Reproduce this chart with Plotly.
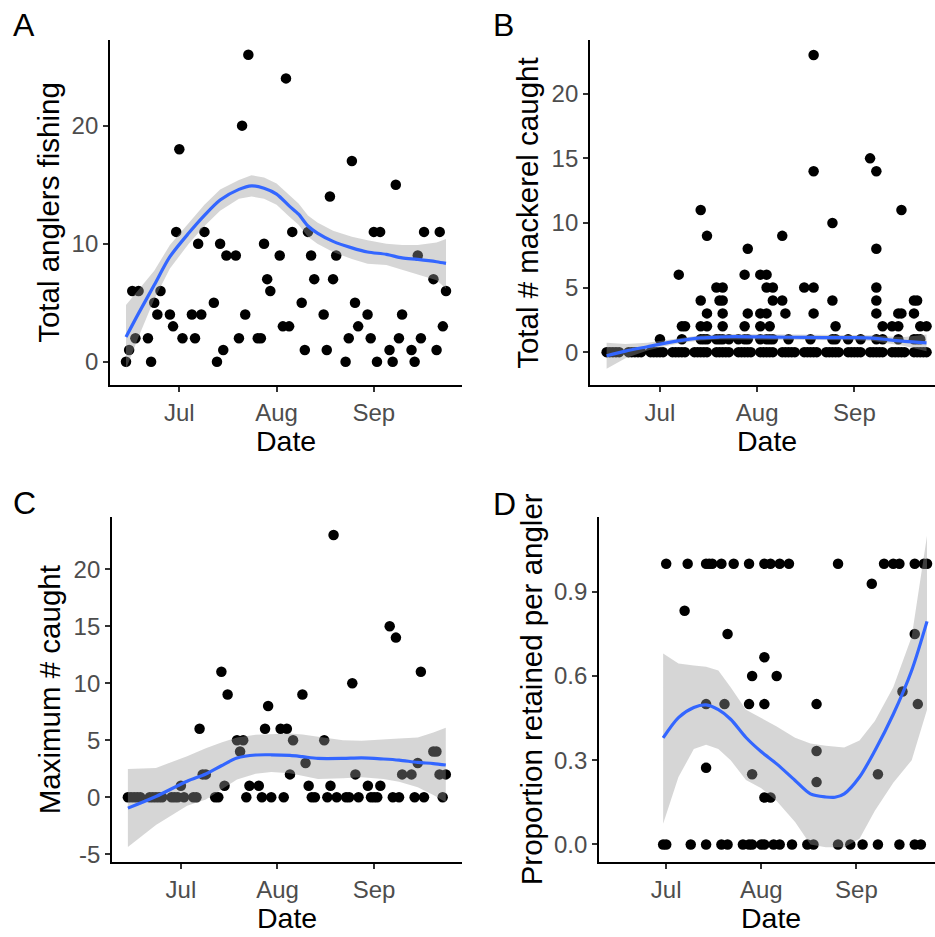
import pandas as pd
import plotly.graph_objects as go

BASE = pd.Timestamp("2021-07-01")

# ---------------- data (day offsets from 1 Jul 2021) ----------------
survey_day = [-17, -16, -15, -14, -13, -10, -9, -8, -7, -6, -3, -2, -1, 0, 1,
              4, 5, 6, 7, 8, 11, 12, 13, 14, 15, 18, 19, 20, 21, 22,
              25, 26, 27, 28, 29, 32, 33, 34, 35, 36, 39, 40, 41, 42, 43,
              46, 47, 48, 49, 50, 53, 54, 55, 56, 57, 60, 61, 62, 63, 64,
              67, 68, 69, 70, 71, 74, 75, 76, 77, 78, 81, 82, 83, 84, 85]

total_anglers = [0, 1, 6, 2, 6, 2, 0, 5, 4, 6, 4, 3, 11, 18, 2,
                 4, 2, 10, 4, 11, 5, 0, 10, 1, 9, 9, 2, 20, 4, 26,
                 2, 2, 10, 7, 6, 9, 3, 24, 3, 11, 5, 1, 11, 9, 7,
                 4, 1, 14, 7, 9, 0, 2, 17, 5, 3, 4, 2, 11, 0, 11,
                 1, 0, 15, 2, 4, 1, 0, 9, 2, 11, 7, 1, 11, 3, 6]

max_caught = [0, 0, 0, 0, 0, 0, 0, 0, 0, 0, 0, 0, 0, 1, 0,
              0, 0, 6, 2, 2, 0, 0, 11, 1, 9, 5, 4, 5, 0, 1,
              1, 0, 6, 8, 0, 6, 0, 6, 2, 5, 9, 3, 1, 0, 0,
              5, 0, 1, 23, 0, 0, 0, 10, 2, 0, 1, 0, 0, 0, 1,
              15, 0, 14, 0, 2, 2, 0, 3, 11, 0, 4, 4, 2, 0, 2]

# Panel B: individual angler catches (zero catches occur on every survey day)
catch_1_days = [0, 7, 13, 14, 15, 18, 19, 20, 22, 25, 27, 28, 32, 34, 35, 36, 41, 48,
                55, 56, 60, 64, 69, 71, 76, 81, 82, 83]
catch_2_days = [7, 8, 13, 15, 20, 27, 32, 35, 56, 71, 74, 76, 83, 85]
catch_3_days = [15, 20, 28, 32, 34, 40, 49, 69, 76, 77, 81]
catch_4_days = [13, 19, 20, 36, 39, 55, 69, 81, 82]
catch_5_days = [18, 20, 34, 36, 46, 49, 69]
catch_6_days = [6, 27, 32, 34]
catch_8_days = [28, 69]
catch_9_days = [15, 39]
catch_10_days = [55]
catch_11_days = [13, 77]
catch_14_days = [49, 69]
catch_15_days = [67]
catch_23_days = [49]

# Panel D: proportion retained per angler
d_day = [0, 7, 13, 14, 15, 18, 22, 27, 32, 34, 37, 40, 56, 71, 74, 76, 81, 84, 85,
         67, 6, 20, 81, 32, 28, 36, 77, 13, 19, 27, 32, 49, 82,
         49, 13, 28, 69, 49, 32, 34,
         -1, 0, 8, 13, 18, 20, 25, 27, 28, 31, 32, 35, 37, 41, 46, 48, 56, 60, 64, 69, 76, 81, 83]
d_prop = [1, 1, 1, 1, 1, 1, 1, 1, 1, 1, 1, 1, 1, 1, 1, 1, 1, 1, 1,
          0.929, 0.833, 0.75, 0.75, 0.667, 0.6, 0.6, 0.545, 0.5, 0.5, 0.5, 0.5, 0.5, 0.5,
          0.333, 0.273, 0.25, 0.25, 0.222, 0.167, 0.167,
          0, 0, 0, 0, 0, 0, 0, 0, 0, 0, 0, 0, 0, 0, 0, 0, 0, 0, 0, 0, 0, 0, 0]

# smoother curves (fit, lower, upper)
a_fit_day = [-17, -13, -8, -3, 3, 8, 13, 19, 23, 27, 31, 35, 38, 41, 44, 49, 55, 60, 66, 71, 76, 82, 85]
a_fit = [2.1, 4.1, 6.5, 8.9, 10.9, 12.4, 13.7, 14.6, 14.9, 14.7, 14.2, 13.2, 12.5, 11.5, 10.9,
         10.2, 9.65, 9.3, 9.1, 8.8, 8.67, 8.47, 8.33]
a_hi = [4.8, 6.1, 7.7, 9.9, 11.8, 13.3, 14.6, 15.4, 15.8, 15.6, 15.1, 14.1, 13.4, 12.4, 11.8,
        11.1, 10.6, 10.3, 10.0, 9.9, 9.9, 10.1, 10.4]
a_lo = [-0.6, 2.1, 5.3, 7.9, 10.0, 11.5, 12.8, 13.8, 14.0, 13.8, 13.3, 12.3, 11.6, 10.6, 10.0,
        9.3, 8.7, 8.3, 8.2, 7.8, 7.4, 6.9, 6.2]

b_fit_day = [-17, -11, -4, 3, 8, 13, 19, 24, 31, 41, 52, 62, 68, 73, 78, 85]
b_fit = [-0.28, 0.08, 0.42, 0.75, 0.95, 1.1, 1.17, 1.2, 1.18, 1.15, 1.13, 1.12, 1.08, 0.95, 0.83, 0.72]
b_hi = [0.72, 0.63, 0.72, 0.97, 1.15, 1.3, 1.37, 1.4, 1.38, 1.35, 1.33, 1.32, 1.3, 1.21, 1.18, 1.37]
b_lo = [-1.28, -0.47, 0.12, 0.53, 0.75, 0.9, 0.97, 1.0, 0.98, 0.95, 0.93, 0.92, 0.86, 0.69, 0.48, 0.07]

c_fit_day = [-17, -8, 2, 8, 13, 18, 24, 29, 35, 39, 44, 52, 58, 65, 70, 76, 81, 85]
c_fit = [-0.96, 0.06, 1.4, 2.03, 2.76, 3.43, 3.7, 3.72, 3.66, 3.55, 3.4, 3.4, 3.45, 3.35, 3.25,
         3.05, 2.95, 2.82]
c_hi = [2.47, 2.56, 3.6, 4.3, 4.8, 5.23, 5.47, 5.52, 5.58, 5.5, 5.3, 5.0, 4.95, 5.1, 5.15, 5.23,
        5.67, 6.1]
c_lo = [-4.36, -2.45, -0.75, -0.2, 0.7, 1.55, 2.05, 2.2, 2.1, 1.9, 1.6, 1.65, 1.75, 1.6, 1.35,
        0.87, 0.2, -0.45]

d_fit_day = [-1, 4, 9, 13, 17, 21, 26, 31, 36, 42, 47, 52, 55, 58, 63, 68, 74, 80, 85]
d_fit = [0.38, 0.452, 0.488, 0.497, 0.48, 0.446, 0.381, 0.33, 0.287, 0.228, 0.18, 0.169, 0.168,
         0.18, 0.24, 0.334, 0.464, 0.62, 0.795]
d_hi = [0.68, 0.645, 0.638, 0.633, 0.62, 0.56, 0.48, 0.45, 0.42, 0.38, 0.36, 0.352, 0.348, 0.345,
        0.37, 0.44, 0.56, 0.74, 1.1]
d_lo = [0.074, 0.24, 0.34, 0.355, 0.34, 0.3, 0.23, 0.2, 0.155, 0.08, 0.0, -0.01, -0.01, -0.01,
        0.02, 0.12, 0.22, 0.3, 0.48]

month_ticks = ["2021-07-01", "2021-08-01", "2021-09-01"]
month_labels = ["Jul", "Aug", "Sep"]

# ---------------- helpers ----------------
W, H = 935, 937


def dates(days):
    return [BASE + pd.Timedelta(days=float(d)) for d in days]


def px_x(p):
    return p / W


def px_y(p):
    return 1 - p / H


b_day, b_count = list(survey_day), [0] * len(survey_day)
for val, days in [(1, catch_1_days), (2, catch_2_days), (3, catch_3_days), (4, catch_4_days),
                  (5, catch_5_days), (6, catch_6_days), (8, catch_8_days), (9, catch_9_days),
                  (10, catch_10_days), (11, catch_11_days), (14, catch_14_days),
                  (15, catch_15_days), (23, catch_23_days)]:
    b_day += days
    b_count += [val] * len(days)

fig = go.Figure()

panels = [
    ("x", "y", survey_day, total_anglers, a_fit_day, a_fit, a_lo, a_hi),
    ("x2", "y2", b_day, b_count, b_fit_day, b_fit, b_lo, b_hi),
    ("x3", "y3", survey_day, max_caught, c_fit_day, c_fit, c_lo, c_hi),
    ("x4", "y4", d_day, d_prop, d_fit_day, d_fit, d_lo, d_hi),
]

for xa, ya, pdays, pvals, fday, fit, lo, hi in panels:
    fig.add_trace(go.Scatter(x=dates(pdays), y=pvals, mode="markers", xaxis=xa, yaxis=ya,
                             marker=dict(color="black", size=10.5), hoverinfo="skip"))
    fig.add_trace(go.Scatter(x=dates(fday) + dates(fday[::-1]), y=hi + lo[::-1], mode="lines",
                             xaxis=xa, yaxis=ya, fill="toself",
                             fillcolor="rgba(153,153,153,0.4)", line=dict(width=0),
                             hoverinfo="skip"))
    fig.add_trace(go.Scatter(x=dates(fday), y=fit, mode="lines", xaxis=xa, yaxis=ya,
                             line=dict(color="#3366FF", width=3.2, shape="spline", smoothing=0.8),
                             hoverinfo="skip"))

axis_style = dict(showline=True, linecolor="black", linewidth=1.8, ticks="outside", ticklen=5,
                  tickwidth=1.8, tickcolor="#333333", showgrid=False, zeroline=False,
                  tickfont=dict(size=24, color="#4D4D4D"), ticklabelstandoff=0)

# panel pixel boxes: (left, right, top, bottom) and data ranges
boxes = {
    "1": dict(l=110, r=462, t=40, b=387, xr=(-22.1, 90.1), yr=(-1.96, 27.27),
              yt=[0, 10, 20]),
    "2": dict(l=590, r=935, t=40, b=387, xr=(-22.3, 87.7), yr=(-2.54, 24.18),
              yt=[0, 5, 10, 15, 20]),
    "3": dict(l=112, r=462, t=520, b=867, xr=(-22.1, 90.2), yr=(-5.72, 24.56),
              yt=[-5, 0, 5, 10, 15, 20]),
    "4": dict(l=599, r=935, t=520, b=867, xr=(-21.9, 87.6), yr=(-0.064, 1.166),
              yt=[0.0, 0.3, 0.6, 0.9]),
}

layout = dict(width=W, height=H, margin=dict(l=0, r=0, t=0, b=0), showlegend=False,
              plot_bgcolor="white", paper_bgcolor="white",
              font=dict(family="Liberation Sans, Arial, sans-serif", color="black"))
for k, bx in boxes.items():
    sfx = "" if k == "1" else k
    layout["xaxis" + sfx] = dict(axis_style, type="date", domain=[px_x(bx["l"]), px_x(bx["r"])],
                                 anchor="y" + sfx, range=dates(bx["xr"]),
                                 tickvals=month_ticks, ticktext=month_labels)
    ytext = [f"{v:.1f}" for v in bx["yt"]] if k == "4" else [str(v) for v in bx["yt"]]
    layout["yaxis" + sfx] = dict(axis_style, domain=[px_y(bx["b"]), px_y(bx["t"])],
                                 anchor="x" + sfx, range=list(bx["yr"]),
                                 tickvals=bx["yt"], ticktext=ytext)
fig.update_layout(**layout)

ann = []
for txt, x, y in [("A", 24, 25), ("B", 503, 25), ("C", 24, 506), ("D", 504, 507)]:
    ann.append(dict(text=txt, x=px_x(x), y=px_y(y), xref="paper", yref="paper", showarrow=False,
                    font=dict(size=32), xanchor="center", yanchor="middle"))
for txt, x, y in [("Date", 286, 443), ("Date", 767, 443), ("Date", 287, 923), ("Date", 771, 923)]:
    ann.append(dict(text=txt, x=px_x(x), y=px_y(y), xref="paper", yref="paper", showarrow=False,
                    font=dict(size=28.5), xanchor="center", yanchor="middle"))
for txt, x, y in [("Total anglers fishing", 49, 214), ("Total # mackerel caught", 528, 214),
                  ("Maximum # caught", 49, 694), ("Proportion retained per angler", 531, 693)]:
    ann.append(dict(text=txt, x=px_x(x), y=px_y(y), xref="paper", yref="paper", showarrow=False,
                    font=dict(size=29.5), textangle=-90, xanchor="center", yanchor="middle"))
fig.update_layout(annotations=ann)

fig.write_html("out.html", config={"displayModeBar": False},
               post_script="document.body.style.margin='0';")
